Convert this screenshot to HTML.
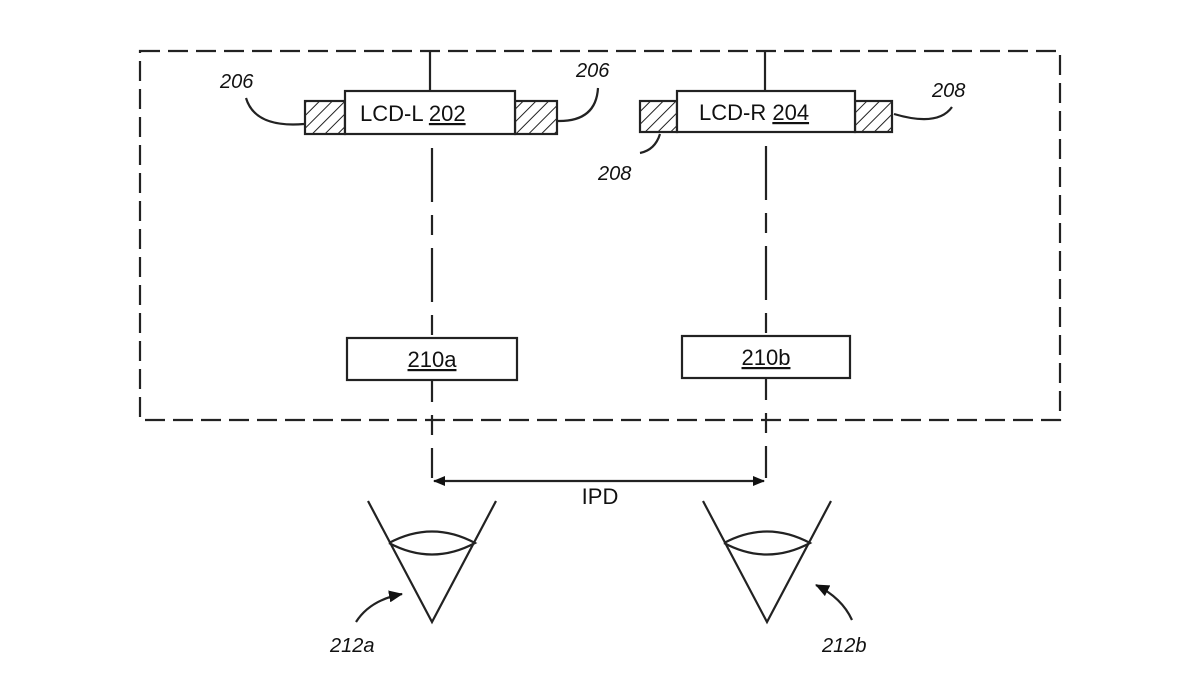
<!DOCTYPE html>
<html><head><style>html,body{margin:0;padding:0;background:#fff}svg{display:block}</style></head>
<body>
<svg width="1200" height="675" viewBox="0 0 1200 675" xmlns="http://www.w3.org/2000/svg" font-family="Liberation Sans, sans-serif">
<defs>
<pattern id="h" width="9" height="9" patternUnits="userSpaceOnUse" patternTransform="rotate(45)">
<rect width="9" height="9" fill="#fff"/><line x1="0" y1="0" x2="0" y2="9" stroke="#222" stroke-width="2"/></pattern>
<marker id="a" markerWidth="12" markerHeight="10" refX="11" refY="5" orient="auto-start-reverse" markerUnits="userSpaceOnUse"><path d="M0,0 L12,5 L0,10 Z" fill="#111"/></marker>
<marker id="b" markerWidth="14" markerHeight="12" refX="13" refY="6" orient="auto" markerUnits="userSpaceOnUse"><path d="M0,0 L14,6 L0,12 Z" fill="#111"/></marker>
</defs>
<g stroke="#222" stroke-width="2.2" fill="none">
<rect x="140" y="51" width="920" height="369" stroke-dasharray="20,8"/>
<line x1="430" y1="51" x2="430" y2="91"/>
<line x1="765" y1="51" x2="765" y2="91"/>
<line x1="432" y1="148" x2="432" y2="478" stroke-dasharray="54,13,20,13"/>
<line x1="766" y1="146" x2="766" y2="478" stroke-dasharray="54,13,20,13"/>
<rect x="305" y="101" width="40" height="33" fill="url(#h)"/>
<rect x="515" y="101" width="42" height="33" fill="url(#h)"/>
<rect x="345" y="91" width="170" height="43" fill="#fff"/>
<rect x="640" y="101" width="37" height="31" fill="url(#h)"/>
<rect x="855" y="101" width="37" height="31" fill="url(#h)"/>
<rect x="677" y="91" width="178" height="41" fill="#fff"/>
<rect x="347" y="338" width="170" height="42" fill="#fff"/>
<rect x="682" y="336" width="168" height="42" fill="#fff"/>
<line x1="434" y1="481" x2="764" y2="481" marker-start="url(#a)" marker-end="url(#a)"/>
<path d="M368,501 L432,622 L496,501"/>
<path d="M389,543 Q432,520 475,543 Q432,566 389,543"/>
<path d="M703,501 L767,622 L831,501"/>
<path d="M724,543 Q767,520 810,543 Q767,566 724,543"/>
<path d="M246,98 Q255,128 304,124"/>
<path d="M598,88 Q596,122 557,121"/>
<path d="M952,107 Q938,127 894,114"/>
<path d="M660,134 Q655,150 640,153"/>
<path d="M356,622 Q370,600 402,594" marker-end="url(#b)"/>
<path d="M852,620 Q842,598 816,585" marker-end="url(#b)"/>
</g>
<g fill="#111" font-size="22">
<text x="360" y="121">LCD-L <tspan text-decoration="underline">202</tspan></text>
<text x="699" y="120">LCD-R <tspan text-decoration="underline">204</tspan></text>
<text x="432" y="367" text-anchor="middle" text-decoration="underline">210a</text>
<text x="766" y="365" text-anchor="middle" text-decoration="underline">210b</text>
<text x="600" y="504" text-anchor="middle">IPD</text>
</g>
<g fill="#111" font-size="20" font-style="italic">
<text x="220" y="88">206</text>
<text x="576" y="77">206</text>
<text x="932" y="97">208</text>
<text x="598" y="180">208</text>
<text x="330" y="652">212a</text>
<text x="822" y="652">212b</text>
</g>
</svg>
</body></html>
